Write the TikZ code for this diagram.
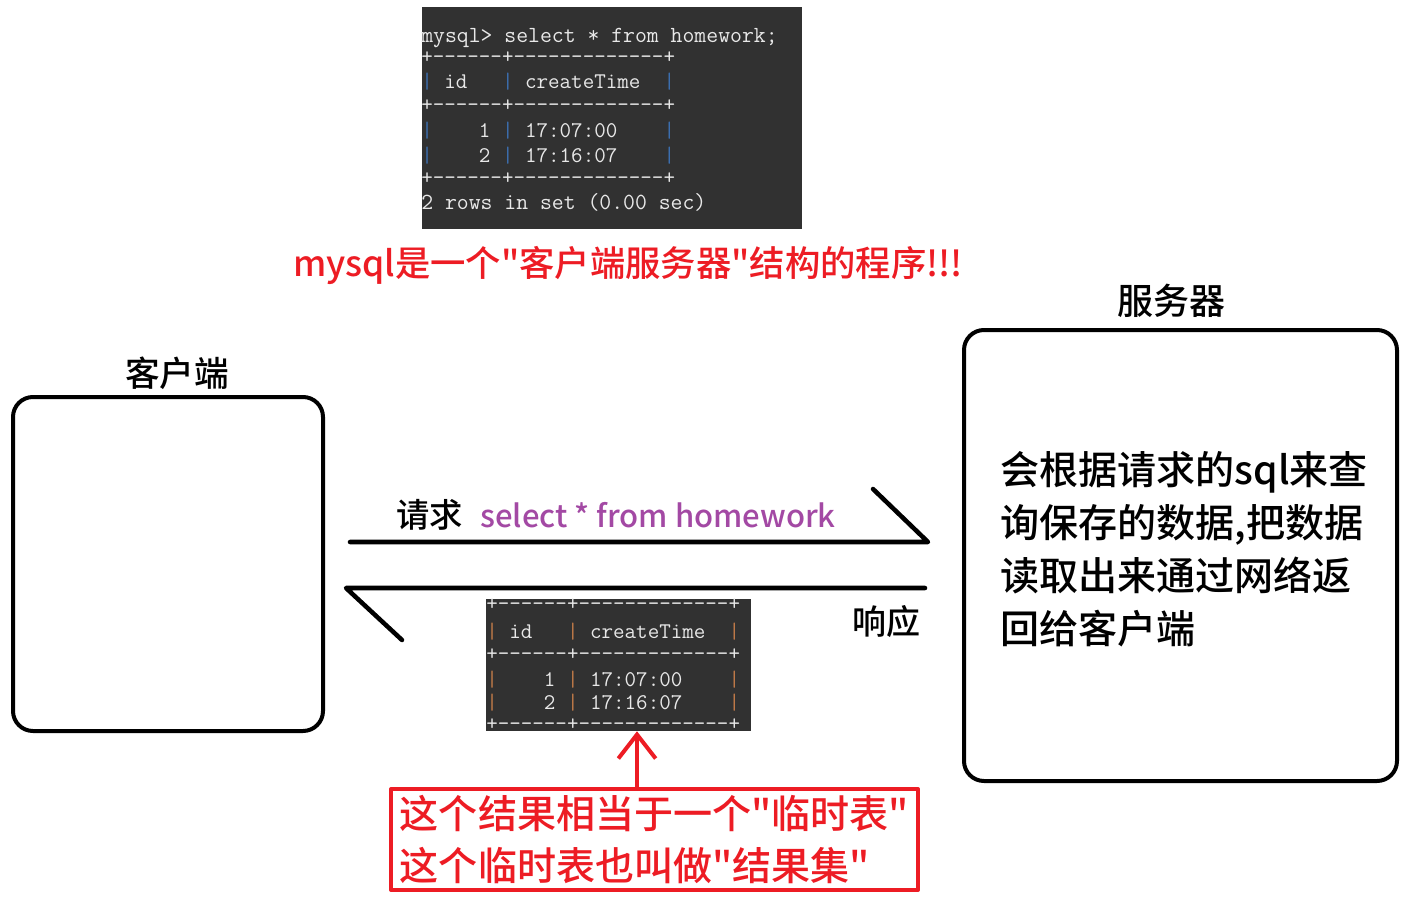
\documentclass[tikz,border=0pt]{standalone}
\usepackage{fontspec}
\setmonofont{Latin Modern Mono}
\newfontfamily\cjk{Noto Sans CJK SC}
\newfontfamily\cjkmed{Noto Sans CJK SC Medium}
\usetikzlibrary{arrows.meta}
\definecolor{SqlRed}{HTML}{ED1C24}
\definecolor{SqlPurple}{HTML}{A349A4}
\definecolor{TermBg}{HTML}{313131}
\definecolor{TermFg}{HTML}{E8E8E8}
\definecolor{TermPipe}{HTML}{3C6FB0}
\definecolor{ResPipe}{HTML}{C07A48}
\newcommand\tp{\textcolor{TermPipe}{|}}
\newcommand\rp{\textcolor{ResPipe}{|}}

\begin{document}
\begin{tikzpicture}[x=0.75pt,y=-0.75pt,line cap=round,line join=round,
  termline/.style={anchor=base west,inner sep=0pt,text=TermFg,font=\ttfamily\fontsize{16.8pt}{18pt}\selectfont},
  box/.style={draw=black,line width=3pt,rounded corners=15pt},
  wire/.style={draw=black,line width=3.4pt},
  tag/.style={font=\cjkmed\fontsize{26pt}{30pt}\selectfont,inner sep=0pt}]
  \useasboundingbox[fill=white] (0,0) rectangle (1411,904);

  % query in the terminal
  \node[fill=TermBg,inner sep=0pt,minimum width=285pt,minimum height=166.5pt] (term) at (612,118) {};
  \node[termline,font=\ttfamily\fontsize{17.3pt}{18pt}\selectfont] (q0) at (421,42) {mysql> select * from homework;};
  \node[termline] (q1) at (421,63) {+------+-------------+};
  \node[termline] (q2) at (421,88) {\tp~id~~~\tp~createTime~~\tp};
  \node[termline] (q3) at (421,111) {+------+-------------+};
  \node[termline] (q4) at (421,137) {\tp~~~~1~\tp~17:07:00~~~~\tp};
  \node[termline] (q5) at (421,162) {\tp~~~~2~\tp~17:16:07~~~~\tp};
  \node[termline] (q6) at (421,184) {+------+-------------+};
  \node[termline,font=\ttfamily\fontsize{17.3pt}{18pt}\selectfont] (q7) at (421,209) {2 rows in set (0.00 sec)};

  \node[font=\cjkmed\fontsize{26.5pt}{32pt}\selectfont,text=SqlRed,inner sep=0pt] (title) at (628,265) {mysql是一个"客户端服务器"结构的程序!!!};

  % client and server
  \node[box,minimum width=232.5pt,minimum height=250.5pt] (client) at (168,564) {};
  \node[tag] (clientlbl) at (177,373) {客户端};
  \node[box,minimum width=324.75pt,minimum height=338.25pt] (server) at (1180.5,555.5) {};
  \node[tag,font=\cjkmed\fontsize{27pt}{30pt}\selectfont] (serverlbl) at (1171,301) {服务器};
  \node[anchor=west,inner sep=0pt,align=left,font=\cjkmed\fontsize{29.3pt}{39.75pt}\selectfont] (servertxt) at (1000,549)
    {会根据请求的sql来查\\询保存的数据,把数据\\读取出来通过网络返\\回给客户端};

  % request
  \coordinate (reqStart) at (350,542);
  \coordinate (reqEnd) at (928,542);
  \draw[wire] (reqStart) -- (reqEnd) -- ++(-55,-53);
  \node[tag,anchor=base west,font=\cjkmed\fontsize{25pt}{30pt}\selectfont] (reqlbl) at (396,527) {请求};
  \node[anchor=base west,inner sep=0pt,text=SqlPurple,font=\cjkmed\fontsize{23.3pt}{30pt}\selectfont] (reqsql) at (480,527) {select * from homework};

  % response
  \coordinate (resStart) at (925,588);
  \coordinate (resEnd) at (346,588);
  \draw[wire] (resStart) -- (resEnd) -- ++(56,52);
  \node[tag,font=\cjkmed\fontsize{25.5pt}{30pt}\selectfont] (reslbl) at (886,622) {响应};

  % result set
  \node[fill=TermBg,inner sep=0pt,minimum width=198.75pt,minimum height=99pt] (result) at (618.5,665) {};
  \node[termline] (r1) at (486,610) {+------+-------------+};
  \node[termline] (r2) at (486,638) {\rp~id~~~\rp~createTime~~\rp};
  \node[termline] (r3) at (486,660) {+------+-------------+};
  \node[termline] (r4) at (486,686) {\rp~~~~1~\rp~17:07:00~~~~\rp};
  \node[termline] (r5) at (486,709) {\rp~~~~2~\rp~17:16:07~~~~\rp};
  \node[termline] (r6) at (486,730) {+------+-------------+};

  \node[draw=SqlRed,line width=3pt,inner sep=2pt,minimum width=395.25pt,minimum height=75.75pt,align=left,text=SqlRed,
        font=\cjkmed\fontsize{29.3pt}{39pt}\selectfont] (note) at (654.5,839.5)
    {这个结果相当于一个"临时表"\\这个临时表也叫做"结果集"};
  \coordinate (tipx) at (637,0);
  \draw[SqlRed,line width=3pt,-{Straight Barb[length=18pt,width=28pt]}] (note.north -| tipx) -- (result.south -| tipx);
\end{tikzpicture}
\end{document}
